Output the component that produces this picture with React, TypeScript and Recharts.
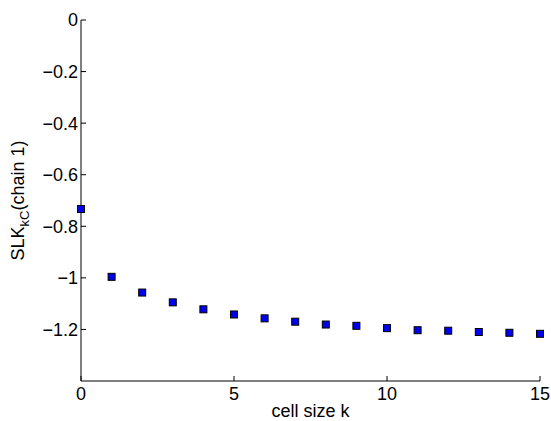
import { ScatterChart, Scatter, XAxis, YAxis } from 'recharts'

// ── データ ──────────────────────────────────────────────
const cellSizes = [0, 1, 2, 3, 4, 5, 6, 7, 8, 9, 10, 11, 12, 13, 14, 15]
const slkValues = [
  -0.733, -0.996, -1.057, -1.095, -1.122, -1.142, -1.157, -1.17,
  -1.181, -1.186, -1.195, -1.203, -1.205, -1.21, -1.213, -1.217,
]
const xTicks = [0, 5, 10, 15]
const yTicks = [-1.2, -1, -0.8, -0.6, -0.4, -0.2, 0]

const data = cellSizes.map((k, i) => ({ k, slk: slkValues[i] }))

const FONT = '"Liberation Sans", Arial, Helvetica, sans-serif'

// MATLAB 風のマイナス記号
const fmt = (v: number) => (v < 0 ? '\u2212' + String(Math.abs(v)) : String(v))

// 四角マーカー
// eslint-disable-next-line @typescript-eslint/no-explicit-any
function SquareMarker({ cx, cy }: any) {
  if (cx == null || cy == null) return null
  return <rect x={cx - 3.5} y={cy - 3.5} width={7} height={7} fill="#0000ee" stroke="#000" strokeWidth={1} />
}

// 縦軸ラベル（下付き文字あり）
// eslint-disable-next-line @typescript-eslint/no-explicit-any
function YLabel({ viewBox }: any) {
  const x = viewBox.x + 24
  const y = viewBox.y + viewBox.height / 2
  return (
    <text
      x={x}
      y={y}
      transform={`rotate(-90, ${x}, ${y})`}
      textAnchor="middle"
      fontFamily={FONT}
      fontSize={18}
      fill="#000"
    >
      SLK
      <tspan dy={5} fontSize={13}>kC</tspan>
      <tspan dy={-5}>(chain 1)</tspan>
    </text>
  )
}

export default function App() {
  return (
    <div style={{ position: 'absolute', left: 0, top: 0, width: 551, height: 421, background: '#fff' }}>
      <ScatterChart width={551} height={421} margin={{ top: 20, right: 11, bottom: 0, left: 0 }}>
        <XAxis
          type="number"
          dataKey="k"
          domain={[0, 15]}
          ticks={xTicks}
          height={40}
          tickSize={-5}
          tickMargin={11}
          stroke="#000"
          tick={{ fill: '#000', fontSize: 18, fontFamily: FONT }}
          label={{ value: 'cell size k', position: 'insideBottom', offset: 4, fill: '#000', fontSize: 18, fontFamily: FONT }}
        />
        <YAxis
          type="number"
          dataKey="slk"
          domain={[-1.4, 0]}
          ticks={yTicks}
          width={81}
          tickSize={-5}
          tickMargin={8}
          stroke="#000"
          tickFormatter={fmt}
          tick={{ fill: '#000', fontSize: 18, fontFamily: FONT }}
          label={{ content: YLabel }}
        />
        <Scatter data={data} shape={<SquareMarker />} isAnimationActive={false} />
      </ScatterChart>
    </div>
  )
}
